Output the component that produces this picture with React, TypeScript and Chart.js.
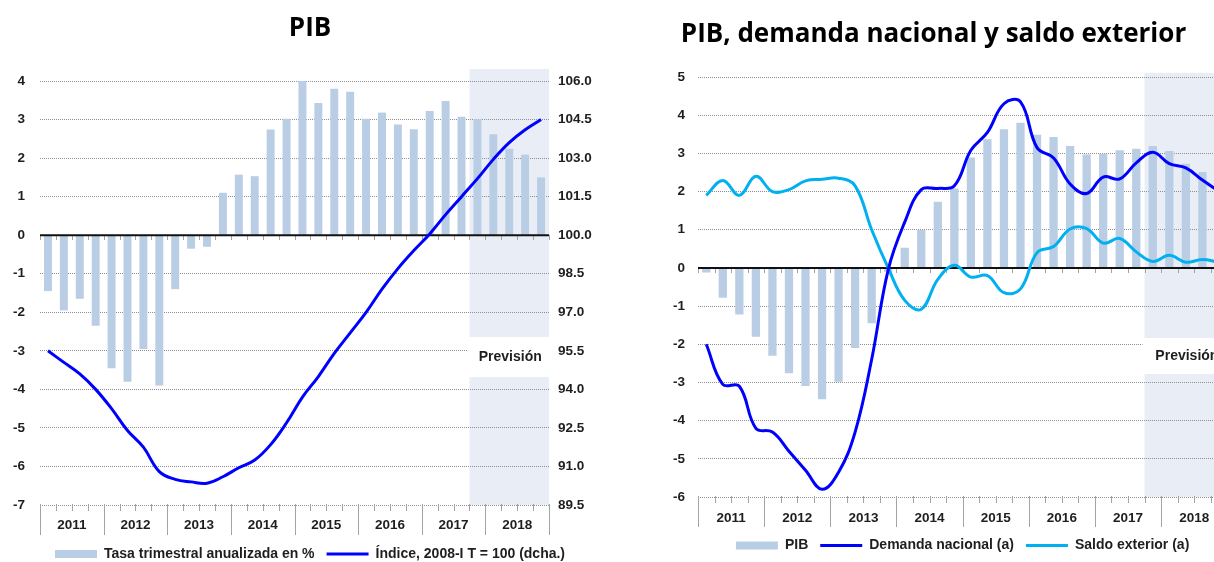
import React, { useEffect, useRef } from "react";
import { Chart, registerables } from "chart.js";

Chart.register(...registerables);

// ---------- DATA ----------
const years = ["2011", "2012", "2013", "2014", "2015", "2016", "2017", "2018"];
const quarterNames = ["I", "II", "III", "IV"];
const quarters = years.flatMap((y) => quarterNames.map((q) => `${y}-${q}`));

// Left chart: PIB
const pibTasaTrimestral = [
  -1.45, -1.95, -1.65, -2.35,
  -3.45, -3.8, -2.95, -3.9,
  -1.4, -0.35, -0.3, 1.1,
  1.57, 1.53, 2.74, 3.02,
  4.0, 3.43, 3.8, 3.72,
  3.02, 3.18, 2.87, 2.75,
  3.22, 3.48, 3.07, 3.01,
  2.62, 2.24, 2.09, 1.5,
];
const pibIndice = [
  95.5, 95.05, 94.6, 94.0,
  93.25, 92.4, 91.75, 90.8,
  90.5, 90.4, 90.35, 90.6,
  90.95, 91.25, 91.85, 92.7,
  93.7, 94.5, 95.4, 96.2,
  97.0, 97.9, 98.7, 99.4,
  100.05, 100.8, 101.5, 102.2,
  102.95, 103.6, 104.1, 104.5,
];
const leftTicks = [-7, -6, -5, -4, -3, -2, -1, 0, 1, 2, 3, 4];
const indexTicks = [89.5, 91.0, 92.5, 94.0, 95.5, 97.0, 98.5, 100.0, 101.5, 103.0, 104.5, 106.0];

// Right chart: PIB, demanda nacional y saldo exterior
const pibInteranual = [
  -0.12, -0.78, -1.22, -1.8,
  -2.3, -2.76, -3.09, -3.44,
  -2.98, -2.1, -1.45, -0.1,
  0.53, 0.99, 1.73, 2.08,
  2.89, 3.37, 3.63, 3.8,
  3.49, 3.43, 3.19, 2.97,
  2.99, 3.08, 3.12, 3.19,
  3.06, 2.73, 2.51, 2.2,
];
const demandaNacional = [
  -2.0, -3.05, -3.1, -4.2,
  -4.3, -4.8, -5.3, -5.8,
  -5.35, -4.3, -2.4, -0.05,
  1.2, 2.05, 2.08, 2.15,
  3.08, 3.55, 4.3, 4.35,
  3.15, 2.88, 2.2, 1.95,
  2.38, 2.33, 2.75, 3.03,
  2.73, 2.62, 2.3, 2.0,
];
const saldoExterior = [
  1.9, 2.29, 1.9, 2.4,
  2.0, 2.05, 2.28, 2.32,
  2.35, 2.15, 1.0, 0.0,
  -0.85, -1.08, -0.3, 0.07,
  -0.24, -0.2, -0.65, -0.55,
  0.4, 0.56, 1.02, 1.03,
  0.65, 0.77, 0.42, 0.17,
  0.33, 0.15, 0.22, 0.15,
];
const rightTicks = [-6, -5, -4, -3, -2, -1, 0, 1, 2, 3, 4, 5];

const forecastStartIndex = 27; // 2017-IV
const forecastLabel = "Previsión";

// ---------- STYLE ----------
const BAR = "#B9CDE5";
const BLUE = "#0000FF";
const LIGHTBLUE = "#00B0F0";
const SHADE = "#E9EEF6";
const GRID = "#8f8f8f";
const TEXT = "#1e1e1e";
const SANS = "'Liberation Sans', Arial, sans-serif";
const TITLE_FONT = { family: "'Open Sans', sans-serif", size: 26, weight: "bold" as const };
const TICK_FONT = { family: SANS, size: 13.5, weight: "bold" as const };
const LEGEND_FONT = { family: SANS, size: 14, weight: "bold" as const };

type DecorOpts = { shadeTopExtra: number; boxTop: number; boxHeight: number };

function makeDecor(o: DecorOpts) {
  return {
    id: "decor",
    beforeDraw(chart: any) {
      const { ctx, chartArea } = chart;
      const xs = chart.scales.x.getPixelForValue(forecastStartIndex - 0.5);
      ctx.save();
      ctx.fillStyle = SHADE;
      ctx.fillRect(
        xs,
        chartArea.top - o.shadeTopExtra,
        chartArea.right - xs,
        chartArea.bottom - chartArea.top + o.shadeTopExtra
      );
      ctx.restore();
    },
    beforeDatasetsDraw(chart: any) {
      const { ctx, chartArea } = chart;
      const x = chart.scales.x;
      const y = chart.scales.y;
      const n = chart.data.labels.length;
      const y0 = Math.round(y.getPixelForValue(0));
      ctx.save();
      ctx.strokeStyle = "#a3a3a3";
      ctx.lineWidth = 1;
      for (let i = 0; i <= n; i++) {
        const px = Math.round(x.getPixelForValue(i - 0.5)) + 0.5;
        const len = i % 4 === 0 ? 30 : 6;
        ctx.beginPath();
        ctx.moveTo(px, chartArea.bottom - 1);
        ctx.lineTo(px, chartArea.bottom + len);
        ctx.moveTo(px, y0);
        ctx.lineTo(px, y0 + 5);
        ctx.stroke();
      }
      // forecast label box
      const xs = x.getPixelForValue(forecastStartIndex - 0.5) + 2;
      const bx0 = xs;
      const bx1 = chartArea.right;
      const by = chartArea.top + o.boxTop;
      ctx.fillStyle = "#ffffff";
      ctx.fillRect(bx0 - 4, by, bx1 - bx0 + 4, o.boxHeight);
      ctx.fillStyle = TEXT;
      ctx.font = `bold 14px ${SANS}`;
      ctx.textAlign = "center";
      ctx.textBaseline = "middle";
      ctx.fillText(forecastLabel, (bx0 + bx1) / 2, by + o.boxHeight / 2);
      ctx.restore();
    },
    afterDatasetDraw(chart: any, args: any) {
      if (args.index !== 0) return;
      const { ctx, chartArea } = chart;
      const y0 = chart.scales.y.getPixelForValue(0);
      ctx.save();
      ctx.strokeStyle = "#111111";
      ctx.lineWidth = 2;
      ctx.beginPath();
      ctx.moveTo(chartArea.left, y0);
      ctx.lineTo(chartArea.right, y0);
      ctx.stroke();
      ctx.restore();
    },
  };
}

function xScale(labelOffset: number, padding: number, height: number) {
  return {
    offset: true,
    grid: { display: false, drawTicks: false },
    border: { display: false },
    ticks: {
      autoSkip: false,
      maxRotation: 0,
      minRotation: 0,
      labelOffset,
      padding,
      font: TICK_FONT,
      color: TEXT,
      callback: (_v: any, i: number) => (i % 4 === 1 ? years[Math.floor(i / 4)] : ""),
    },
    afterFit: (s: any) => {
      s.height = height;
    },
  };
}

function yGridScale(ticks: number[], width: number, padding: number) {
  return {
    position: "left" as const,
    min: ticks[0],
    max: ticks[ticks.length - 1],
    afterBuildTicks: (s: any) => {
      s.ticks = ticks.map((v) => ({ value: v }));
    },
    grid: {
      drawTicks: false,
      lineWidth: 1,
      color: (c: any) => (c.tick && c.tick.value === 0 ? "rgba(0,0,0,0)" : GRID),
      borderDash: [1, 1],
    },
    border: { display: false, dash: [1, 1] },
    ticks: { padding, font: TICK_FONT, color: TEXT, callback: (v: any) => String(v) },
    afterFit: (s: any) => {
      s.width = width;
    },
  };
}

function legendItems(items: { text: string; color: string; kind: "bar" | "line" }[]) {
  return {
    usePointStyle: true,
    pointStyleWidth: 42,
    boxWidth: 42,
    boxHeight: 8,
    padding: 12,
    font: LEGEND_FONT,
    color: TEXT,
    generateLabels: () =>
      items.map((it, i) => ({
        text: it.text,
        fillStyle: it.color,
        strokeStyle: it.color,
        lineWidth: it.kind === "line" ? 3 : 0,
        pointStyle: it.kind === "line" ? "line" : "rect",
        hidden: false,
        datasetIndex: i,
        fontColor: TEXT,
      })),
  };
}

function leftConfig(): any {
  return {
    type: "bar",
    data: {
      labels: quarters,
      datasets: [
        {
          type: "bar",
          label: "Tasa trimestral anualizada en %",
          data: pibTasaTrimestral,
          backgroundColor: BAR,
          barPercentage: 0.5,
          categoryPercentage: 1,
          yAxisID: "y",
          order: 2,
        },
        {
          type: "line",
          label: "Índice, 2008-I T = 100 (dcha.)",
          data: pibIndice,
          borderColor: BLUE,
          backgroundColor: BLUE,
          borderWidth: 3,
          pointRadius: 0,
          tension: 0.4,
          yAxisID: "y1",
          order: 1,
        },
      ],
    },
    options: {
      responsive: false,
      animation: false,
      layout: { padding: { left: 0, right: 0, top: 0, bottom: 1 } },
      scales: {
        x: xScale(8, 12, 30),
        y: yGridScale(leftTicks, 40, 15),
        y1: {
          position: "right",
          min: indexTicks[0],
          max: indexTicks[indexTicks.length - 1],
          afterBuildTicks: (s: any) => {
            s.ticks = indexTicks.map((v) => ({ value: v }));
          },
          grid: { display: false, drawOnChartArea: false, drawTicks: false },
          border: { display: false },
          ticks: {
            padding: 9,
            font: TICK_FONT,
            color: TEXT,
            callback: (v: any) => Number(v).toFixed(1),
          },
          afterFit: (s: any) => {
            s.width = 71;
          },
        },
      },
      plugins: {
        tooltip: { enabled: false },
        title: {
          display: true,
          text: "PIB",
          font: TITLE_FONT,
          color: "#000",
          padding: { top: 13, bottom: 36.8 },
        },
        legend: {
          display: true,
          position: "bottom",
          labels: legendItems([
            { text: "Tasa trimestral anualizada en %", color: BAR, kind: "bar" },
            { text: "Índice, 2008-I T = 100 (dcha.)", color: BLUE, kind: "line" },
          ]),
        },
      },
    },
    plugins: [makeDecor({ shadeTopExtra: 12, boxTop: 256, boxHeight: 40 })],
  };
}

function rightConfig(): any {
  return {
    type: "bar",
    data: {
      labels: quarters,
      datasets: [
        {
          type: "bar",
          label: "PIB",
          data: pibInteranual,
          backgroundColor: BAR,
          barPercentage: 0.5,
          categoryPercentage: 1,
          yAxisID: "y",
          order: 3,
        },
        {
          type: "line",
          label: "Demanda nacional (a)",
          data: demandaNacional,
          borderColor: BLUE,
          backgroundColor: BLUE,
          borderWidth: 3,
          pointRadius: 0,
          tension: 0.4,
          yAxisID: "y",
          order: 1,
        },
        {
          type: "line",
          label: "Saldo exterior (a)",
          data: saldoExterior,
          borderColor: LIGHTBLUE,
          backgroundColor: LIGHTBLUE,
          borderWidth: 3,
          pointRadius: 0,
          tension: 0.4,
          yAxisID: "y",
          order: 2,
        },
      ],
    },
    options: {
      responsive: false,
      animation: false,
      layout: { padding: { left: 0, right: 3, top: 0, bottom: 9.5 } },
      scales: {
        x: xScale(8.3, 13, 29.5),
        y: yGridScale(rightTicks, 60, 13),
      },
      plugins: {
        tooltip: { enabled: false },
        title: {
          display: true,
          text: "PIB, demanda nacional y saldo exterior",
          font: TITLE_FONT,
          color: "#000",
          padding: { top: 19, bottom: 26.8 },
        },
        legend: {
          display: true,
          position: "bottom",
          fullSize: false,
          labels: legendItems([
            { text: "PIB", color: BAR, kind: "bar" },
            { text: "Demanda nacional (a)", color: BLUE, kind: "line" },
            { text: "Saldo exterior (a)", color: LIGHTBLUE, kind: "line" },
          ]),
        },
      },
    },
    plugins: [makeDecor({ shadeTopExtra: 4, boxTop: 261, boxHeight: 36 })],
  };
}

function ChartCanvas(props: { make: () => any; left: number; width: number; height: number }) {
  const ref = useRef<HTMLCanvasElement | null>(null);
  useEffect(() => {
    const chart = new Chart(ref.current as HTMLCanvasElement, props.make());
    return () => chart.destroy();
  }, []);
  return (
    <canvas
      ref={ref}
      width={props.width}
      height={props.height}
      style={{ position: "absolute", left: props.left, top: 0, width: props.width, height: props.height }}
    />
  );
}

export default function App() {
  return (
    <div
      style={{
        position: "fixed",
        left: 0,
        top: 0,
        width: 1214,
        height: 562,
        overflow: "hidden",
        background: "#ffffff",
      }}
    >
      <ChartCanvas make={leftConfig} left={0} width={620} height={572} />
      <ChartCanvas make={rightConfig} left={638} width={594} height={572} />
    </div>
  );
}
